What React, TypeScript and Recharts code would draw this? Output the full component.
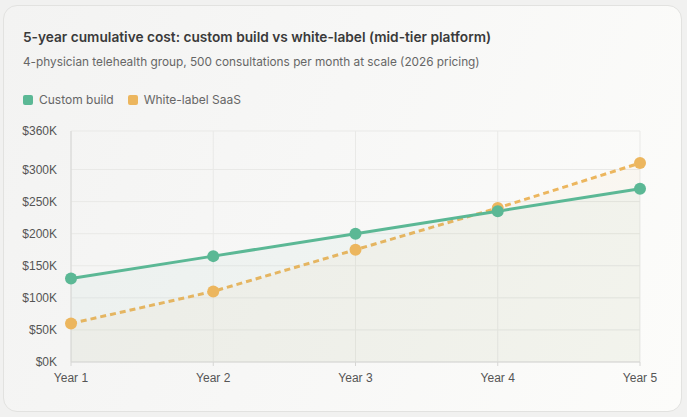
import { ComposedChart, Area, XAxis, YAxis, CartesianGrid } from 'recharts'

const years = ['Year 1', 'Year 2', 'Year 3', 'Year 4', 'Year 5']
const customBuild = [130, 165, 200, 235, 270]
const whiteLabel = [60, 110, 175, 240, 310]
const yTicks = [0, 50, 100, 150, 200, 250, 300, 360]

const GREEN = '#5bb895'
const ORANGE = '#ecb65e'

const data = years.map((year, i) => ({
  year,
  custom: customBuild[i],
  white: whiteLabel[i],
}))

const uiFont = 'Inter, "Noto Sans", sans-serif'
const tickFont = '"Liberation Sans", Arial, sans-serif'

const makeDot = (color: string) => (props: any) => {
  const { cx, cy, index } = props
  if (cx == null || cy == null) return <g key={index} />
  return <circle key={index} cx={cx} cy={cy} r={6} fill={color} stroke="none" />
}

export default function App() {
  return (
    <div
      style={{
        position: 'fixed',
        left: 0,
        top: 0,
        width: 687,
        height: 417,
        background: '#f1f1f0',
        fontFamily: uiFont,
      }}
    >
      <div
        style={{
          position: 'absolute',
          left: 3,
          top: 5,
          width: 677,
          height: 405,
          borderRadius: 14,
          border: '1px solid #e2e2e0',
          background: 'linear-gradient(110deg, #f3f3f2 0%, #f7f7f6 45%, #fcfcfa 100%)',
        }}
      />
      <div
        style={{
          position: 'absolute',
          left: 23,
          top: 29,
          fontSize: 13.7,
          fontWeight: 600,
          color: '#3a3a3a',
          whiteSpace: 'nowrap',
        }}
      >
        5-year cumulative cost: custom build vs white-label (mid-tier platform)
      </div>
      <div
        style={{
          position: 'absolute',
          left: 23,
          top: 55,
          fontSize: 11.8,
          color: '#666',
          whiteSpace: 'nowrap',
        }}
      >
        4-physician telehealth group, 500 consultations per month at scale (2026 pricing)
      </div>
      <div
        style={{
          position: 'absolute',
          left: 23,
          top: 92,
          display: 'flex',
          alignItems: 'center',
          gap: 14,
          fontSize: 12,
          color: '#666',
        }}
      >
        {[
          { name: 'Custom build', color: GREEN },
          { name: 'White-label SaaS', color: ORANGE },
        ].map((entry) => (
          <div key={entry.name} style={{ display: 'flex', alignItems: 'center', gap: 6 }}>
            <div style={{ width: 10, height: 10, borderRadius: 2, background: entry.color }} />
            <span>{entry.name}</span>
          </div>
        ))}
      </div>
      <div style={{ position: 'absolute', left: 0, top: 120 }}>
        <ComposedChart
          width={687}
          height={270}
          data={data}
          margin={{ top: 11, right: 47, bottom: 8, left: 11 }}
        >
          <CartesianGrid stroke="#e9e9e7" />
          <XAxis
            dataKey="year"
            height={20}
            stroke="#d6d6d4"
            tickSize={4}
            tickMargin={7}
            tick={{ fill: '#555', fontSize: 12, fontFamily: tickFont }}
          />
          <YAxis
            domain={[0, 360]}
            ticks={yTicks}
            width={60}
            stroke="#d6d6d4"
            tickLine={false}
            tickMargin={8}
            tickFormatter={(v) => `$${v}K`}
            tick={{ fill: '#555', fontSize: 12, fontFamily: tickFont }}
          />
          <Area
            type="linear"
            dataKey="white"
            stroke={ORANGE}
            strokeWidth={3}
            strokeDasharray="6 4"
            fill={ORANGE}
            fillOpacity={0.05}
            dot={makeDot(ORANGE)}
            activeDot={false}
            isAnimationActive={false}
          />
          <Area
            type="linear"
            dataKey="custom"
            stroke={GREEN}
            strokeWidth={3}
            fill={GREEN}
            fillOpacity={0.05}
            dot={makeDot(GREEN)}
            activeDot={false}
            isAnimationActive={false}
          />
        </ComposedChart>
      </div>
    </div>
  )
}
